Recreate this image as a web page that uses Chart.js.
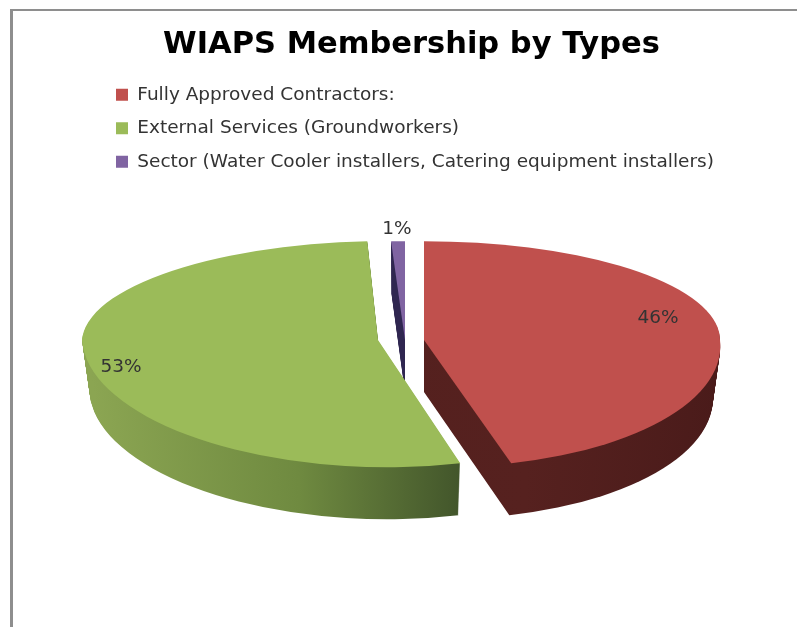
<!DOCTYPE html>
<html><head><meta charset="utf-8">
<style>
html,body{margin:0;padding:0;background:#fff;overflow:hidden;width:797px;height:627px}
#frame{position:absolute;left:10px;top:9px;right:0;bottom:0;border-top:2px solid #8e8e8e;border-left:3px solid #8e8e8e}
canvas{position:absolute;left:0;top:0;display:block}
</style>
<script src="https://cdn.jsdelivr.net/npm/chart.js@4/dist/chart.umd.js"></script>
</head><body>
<div id="frame"></div>
<canvas id="c" width="797" height="627"></canvas>
<script>
const titleText = "WIAPS Membership by Types";
const categories = ["Fully Approved Contractors:", "External Services (Groundworkers)", "Sector (Water Cooler installers, Catering equipment installers)"];
const shares = [46, 53, 1];
const colours = ["#c0504d", "#9bbb59", "#8064a2"];

// 3D pie look
const PIE_RADIUS = 296, PIE_CX = 401, PIE_CY = 340, DEPTH = 52;
const TILT_BACK = 0.334, TILT_FRONT = 0.43, TAPER = 0.025;
const sliceShift = [23, -23, 4];
const sliceWidth = [1, 1, 0.75];
const shearBack = [0, -0.08, 0];
const shearFront = [0.11, 0.07, 0];
const drawOrder = [2, 1, 0];
const labelNudge = [[234, -23], [-257, 26], [-8, -112]];

function wallFill(ctx, i, el) {
  const R = PIE_RADIUS;
  const stops = [
    [[-R, "#501f1d"], [0.3 * R, "#56211f"], [R, "#4a1b1a"]],
    [[-0.98 * R, "#8ba552"], [-0.3 * R, "#6f8a40"], [0.28 * R, "#40532a"]],
    [[-R, "#2f2650"], [R, "#2f2650"]]
  ][i];
  const g = ctx.createLinearGradient(el.x + stops[0][0], 0, el.x + stops[stops.length - 1][0], 0);
  const a = stops[0][0], b = stops[stops.length - 1][0];
  stops.forEach(s => g.addColorStop((s[0] - a) / (b - a), s[1]));
  return g;
}

function drawLayer(ctx, chart, el, i, fill, ax, d) {
  const ghost = Object.create(el);
  const o = Object.create(el.options);
  o.backgroundColor = fill; o.borderWidth = 0; o.offset = 0;
  ghost.options = o;
  const sx = (1 - TAPER * d / DEPTH) * sliceWidth[i];
  const seam = PIE_CY + d;
  for (const band of [0, 1]) {
    ctx.save();
    ctx.beginPath();
    if (band === 0) ctx.rect(0, 0, chart.width, seam);
    else ctx.rect(0, seam, chart.width, chart.height - seam);
    ctx.clip();
    ctx.translate(ax, seam);
    ctx.transform(1, 0, band === 0 ? shearBack[i] : shearFront[i], 1, 0, 0);
    ctx.scale(sx, band === 0 ? TILT_BACK : TILT_FRONT);
    ctx.translate(-el.x, -el.y);
    el.draw.call(ghost, ctx);
    ctx.restore();
  }
}

const pie3d = {
  id: "pie3d",
  beforeDatasetsDraw(chart) {
    const ctx = chart.ctx, arcs = chart.getDatasetMeta(0).data;
    for (const i of drawOrder) {
      const el = arcs[i], ax = PIE_CX + sliceShift[i];
      const wall = wallFill(ctx, i, el);
      for (let d = DEPTH; d >= 1; d--) drawLayer(ctx, chart, el, i, wall, ax, d);
      drawLayer(ctx, chart, el, i, colours[i], ax, 0);
    }
    ctx.save();
    ctx.fillStyle = "#333";
    ctx.font = "18.5px 'DejaVu Sans'";
    ctx.textAlign = "center";
    ctx.textBaseline = "middle";
    shares.forEach((v, i) => {
      ctx.fillText(v + "%", PIE_CX + sliceShift[i] + labelNudge[i][0], PIE_CY + labelNudge[i][1] + 1);
    });
    ctx.restore();
    return false;
  }
};

new Chart(document.getElementById("c"), {
  type: "pie",
  data: { labels: categories, datasets: [{ data: shares, backgroundColor: colours, borderWidth: 0, radius: PIE_RADIUS }] },
  options: {
    responsive: false,
    animation: false,
    layout: { padding: { left: 101, right: 75, top: 27, bottom: 0 } },
    plugins: {
      tooltip: { enabled: false },
      title: { display: true, text: titleText, color: "#000", font: { family: "'DejaVu Sans'", size: 30.5, weight: "bold" }, padding: { top: 0, bottom: 7 } },
      legend: {
        position: "left", align: "start", maxWidth: 614, fullSize: false,
        labels: { boxWidth: 12, boxHeight: 12, padding: 15, color: "#333", font: { family: "'DejaVu Sans'", size: 18.5 } }
      }
    }
  },
  plugins: [pie3d]
});
</script>
</body></html>
